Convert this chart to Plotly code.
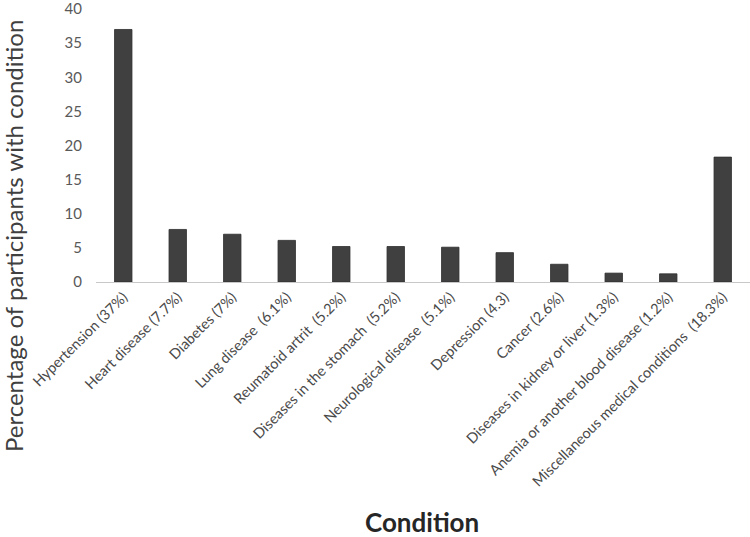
import plotly.graph_objects as go

categories = [
    "Hypertension (37%)", "Heart disease (7.7%)", "Diabetes (7%)", "Lung disease  (6.1%)",
    "Reumatoid artrit  (5.2%)", "Diseases in the stomach  (5.2%)", "Neurological disease  (5.1%)",
    "Depression (4.3)", "Cancer (2.6%)", "Diseases in kidney or liver (1.3%)",
    "Anemia or another blood disease (1.2%)", "Miscellaneous medical conditions  (18.3%)",
]
values = [37, 7.7, 7, 6.1, 5.2, 5.2, 5.1, 4.3, 2.6, 1.3, 1.2, 18.3]
y_ticks = [0, 5, 10, 15, 20, 25, 30, 35, 40]

W, H = 750, 537
L, R, T, B = 96, 0, 9, 255
pw, ph = W - L - R, H - T - B

fig = go.Figure(go.Bar(x=categories, y=values,
                       marker=dict(color="#404040", line=dict(width=0.8, color="#2e2e2e")),
                       width=0.32))

fig.update_layout(
    width=W, height=H,
    margin=dict(l=L, r=R, t=T, b=B, autoexpand=False),
    paper_bgcolor="white", plot_bgcolor="white",
    font=dict(family="Lato, Open Sans, sans-serif", color="#595959"),
    showlegend=False,
    xaxis=dict(tickangle=-45, tickfont=dict(size=14.5, color="#4a4a4a"), showline=True,
               linecolor="#c8c8c8", linewidth=1, ticks="", showgrid=False, automargin=False),
    yaxis=dict(range=[0, 40], tickvals=y_ticks, tickfont=dict(size=15, color="#595959"),
               showgrid=False, zeroline=False, showline=False, ticks="", ticklen=0,
               automargin=False, ticklabelstandoff=13, ticklabeloverflow="allow"),
    annotations=[
        dict(text="Percentage of participants with condition", textangle=-90,
             xref="paper", yref="paper", x=(14 - L) / pw, y=(H - B - 236) / ph,
             xanchor="center", yanchor="middle", showarrow=False,
             font=dict(size=24, color="#404040")),
        dict(text="<b>Condition</b>", xref="paper", yref="paper",
             x=(422 - L) / pw, y=(H - B - 522) / ph, xanchor="center", yanchor="middle",
             showarrow=False, font=dict(size=26, color="#262626")),
    ],
)
fig.write_html("out.html", config={"displayModeBar": False},
               post_script="document.body.style.margin='0';")
